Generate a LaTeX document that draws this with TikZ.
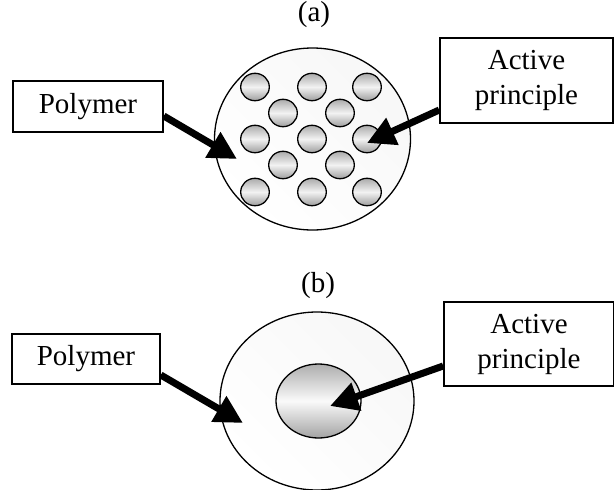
\documentclass[tikz,border=0pt]{standalone}
\usepackage{fontspec}
\setmainfont{Liberation Serif}
\usetikzlibrary{arrows.meta}
\begin{document}
\begin{tikzpicture}[x=1pt,y=-1pt,
  lbl/.style={draw=black,line width=1.6pt,fill=white,align=center,inner sep=0pt,
     font=\fontsize{29}{35}\selectfont},
  captext/.style={font=\fontsize{29}{35}\selectfont,inner sep=0pt},
  bigarrow/.style={line width=7pt,-{Triangle[length=28pt,width=28pt]}},
  outerdisc/.style={draw=black,line width=1.3pt,left color=black!3,right color=white,shading angle=-45},
  bead/.style={draw=black,line width=1.3pt,top color=black!33,bottom color=black!38,middle color=black!5}
]
\useasboundingbox (0,0) rectangle (614,490);
% (a)
\node[captext] (capa) at (314,15) {(a)};
\path[outerdisc] (312.5,139) ellipse [x radius=98, y radius=91];
\coordinate (discA) at (312.5,139);
\foreach \x/\y [count=\i] in {255/87,312/87,367/87,283/113,340/113,255/139,312/139,367/139,283/165,340/165,255/192,312/192,367/192}{
  \path[bead] (\x,\y) ellipse [x radius=14.3, y radius=13.7];
}
\node[lbl,minimum width=150pt,minimum height=51pt] (polA) at (88,106.5) {Polymer};
\node[lbl,minimum width=173pt,minimum height=85pt] (actA) at (526.5,80.5) {Active\\principle};
\coordinate (tipPA) at (237,159);
\coordinate (tipAA) at (367,143);
\draw[bigarrow] (polA.east |- 0,116) -- (tipPA);
\draw[bigarrow] (actA.west |- 0,110) -- (tipAA);
% (b)
\node[captext] (capb) at (318,286) {(b)};
\path[outerdisc] (317,401) ellipse [x radius=97, y radius=89];
\path[draw=black,line width=1.3pt,top color=black!32,bottom color=black!36,middle color=black!2] (318.5,401) ellipse [x radius=42.5, y radius=37];
\node[lbl,minimum width=148pt,minimum height=50pt] (polB) at (86,359) {Polymer};
\node[lbl,minimum width=170pt,minimum height=84pt] (actB) at (529,344) {Active\\principle};
\coordinate (tipPB) at (243,423);
\coordinate (tipAB) at (330,406);
\draw[bigarrow] (polB.east |- 0,375) -- (tipPB);
\draw[bigarrow] (actB.west |- 0,366) -- (tipAB);
\end{tikzpicture}
\end{document}
